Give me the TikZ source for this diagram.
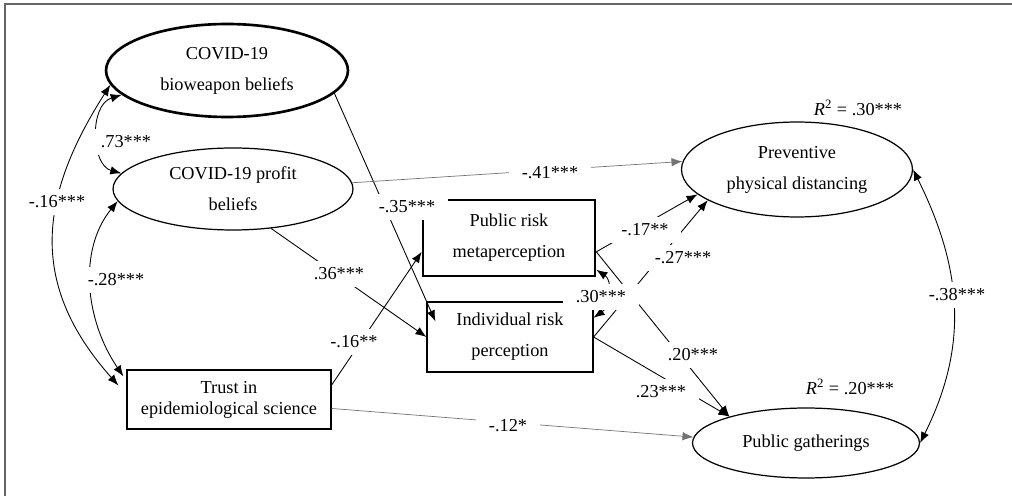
\documentclass[tikz,border=0pt]{standalone}
\usepackage{fontspec}
\setmainfont{Liberation Serif}
\usetikzlibrary{shapes.geometric, arrows.meta}

\begin{document}
\begin{tikzpicture}[x=0.02cm, y=-0.02cm,
  every node/.style={font=\fontsize{10.4}{17.6}\selectfont, align=center, inner sep=0pt},
  latent/.style={draw, ellipse, line width=0.7pt},
  obs/.style={draw, rectangle, line width=0.7pt},
  heavy/.style={line width=1.5pt},
  coef/.style={fill=white, inner xsep=0.25cm, inner ysep=0.14cm},
  effect/.style={-{Latex[length=0.22cm, width=0.17cm]}, line width=0.5pt},
  faint/.style={effect, draw=black!55, line width=0.4pt},
  cov/.style={{Latex[length=0.22cm, width=0.17cm]}-{Latex[length=0.22cm, width=0.17cm]}, line width=0.5pt}]
	\useasboundingbox (0,0) rectangle (1012,496);
	\draw[black!60, line width=0.8pt] (5,496) -- (5,4) -- (1012,4);

	% Nodes
	\node[latent, heavy, minimum width=4.84cm, minimum height=1.86cm] (bio) at (227,70.5) {COVID-19\\bioweapon beliefs};
	\node[latent, minimum width=4.8cm, minimum height=1.64cm] (prof) at (233,189) {COVID-19 profit\\beliefs};
	\node[obs, minimum width=4.08cm, minimum height=1.18cm, font=\fontsize{10.4}{12}\selectfont] (trust) at (229,399.5) {Trust in\\epidemiological science};
	\node[obs, heavy, minimum width=3.44cm, minimum height=1.52cm] (meta) at (509,238) {Public risk\\metaperception};
	\node[obs, minimum width=3.32cm, minimum height=1.4cm] (ind) at (510,337) {Individual risk\\perception};
	\node[latent, minimum width=4.62cm, minimum height=1.9cm] (prev) at (797,169.5) {Preventive\\physical distancing};
	\node[latent, minimum width=4.54cm, minimum height=1.4cm] (pg) at (806,443) {Public gatherings};

	% Edges
	\draw[effect] (bio.-12) -- ([shift={(9,20)}]ind.north west);
	\draw[effect] (prof.-46) -- (ind.west);
	\draw[faint] (prof.3) -- (prev.176);
	\draw[effect] (trust.8) -- (meta.189);
	\draw[faint] (trust.-5) -- (pg.177);
	\draw[effect] (meta.-9) -- (prev.194);
	\draw[effect] (meta.-9) -- (pg.161);
	\draw[effect] (ind.east) -- (prev.199);
	\draw[effect] (ind.east) -- (pg.161);

	% Covariances
	\draw[cov] (bio.187) .. controls (38,198) and (29,285) .. ([shift={(-8,-14)}]trust.west);
	\draw[cov] (bio.193) .. controls (89,105) and (91,165) .. (prof.172);
	\draw[cov] (prof.186) .. controls (78,250) and (85,320) .. ([shift={(-3,7)}]trust.north west);
	\draw[cov] (meta.-20) .. controls (612,280) and (612,305) .. (ind.13);
	\draw[cov] (prev.0) .. controls (962,268) and (969,345) .. (pg.0);

	% Coefficients
	\node[coef] (c73) at (126,142) {.73***};
	\node[coef] (c16a) at (57,202) {-.16***};
	\node[coef] (c28) at (116,280) {-.28***};
	\node[coef] (c35) at (407,207) {-.35***};
	\node[coef] (c36) at (339,274) {.36***};
	\node[coef] (c41) at (550,173) {-.41***};
	\node[coef] (c16b) at (354,342) {-.16**};
	\node[coef] (c12) at (508,426) {-.12*};
	\node[coef] (c17) at (645,230) {-.17**};
	\node[coef] (c27) at (683,258) {-.27***};
	\node[coef] (c30) at (601,297) {.30***};
	\node[coef] (c20) at (693,355) {.20***};
	\node[coef] (c23) at (661,392) {.23***};
	\node[coef] (c38) at (957,295) {-.38***};
	\node[fill=white, inner sep=2pt] (r2a) at (858,108) {\textit{R}\textsuperscript{2} = .30***};
	\node[fill=white, inner sep=2pt] (r2b) at (850,387) {\textit{R}\textsuperscript{2} = .20***};
\end{tikzpicture}
\end{document}
